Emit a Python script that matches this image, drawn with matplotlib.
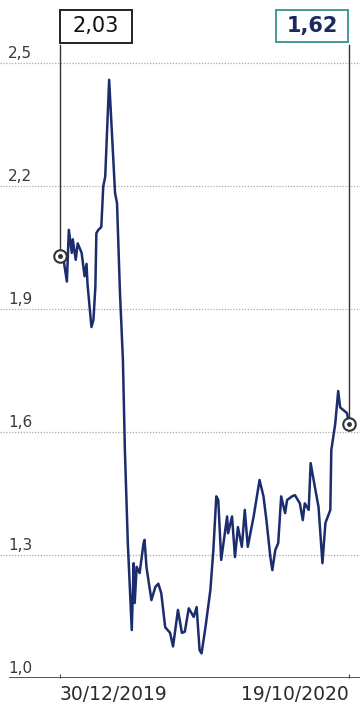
import numpy as np
import matplotlib.pyplot as plt
from matplotlib.patches import Rectangle

# days since 30/12/2019 and price
days = [0, 3, 7, 9, 12, 13, 16, 18, 22, 25, 27, 28, 32, 34, 36, 37, 39, 42, 44, 46,
        50, 56, 58, 61, 64, 66, 69, 73, 75, 76, 78, 81, 85, 86, 88, 93, 97, 100, 103,
        107, 112, 115, 120, 124, 127, 131, 136, 139, 142, 144, 148, 153, 156, 159,
        161, 164, 170, 171, 175, 178, 181, 185, 188, 191, 197, 203, 207, 210, 214,
        216, 219, 222, 225, 229, 231, 236, 239, 244, 247, 249, 253, 255, 258, 263,
        267, 270, 275, 276, 280, 283, 285, 288, 292, 294]
prices = [2.03, 2.03, 1.967, 2.093, 2.037, 2.07, 2.02, 2.06, 2.037, 1.98, 2.01, 1.96,
          1.856, 1.873, 1.955, 2.085, 2.093, 2.10, 2.199, 2.223,
          2.459, 2.183, 2.158, 1.94, 1.776, 1.556, 1.329, 1.117, 1.28, 1.183, 1.271,
          1.256, 1.329, 1.337, 1.27, 1.19, 1.222, 1.23, 1.207,
          1.124, 1.11, 1.077, 1.166, 1.11, 1.113, 1.17, 1.149, 1.173, 1.068, 1.06,
          1.124, 1.215, 1.312, 1.443,
          1.434, 1.288, 1.394, 1.353, 1.394, 1.295, 1.368, 1.32, 1.41, 1.32, 1.394,
          1.483, 1.443, 1.385, 1.295,
          1.263, 1.312, 1.329, 1.443, 1.402, 1.434, 1.443, 1.446, 1.426, 1.385, 1.426,
          1.41, 1.524, 1.483, 1.417,
          1.28, 1.378, 1.41, 1.556, 1.62, 1.70, 1.66, 1.654, 1.646, 1.62]
yticks = [1.0, 1.3, 1.6, 1.9, 2.2, 2.5]
ytick_labels = ['1,0', '1,3', '1,6', '1,9', '2,2', '2,5']
xtick_labels = ['30/12/2019', '19/10/2020']
first_label = '2,03'
last_label = '1,62'

W, H = 360, 708
fig = plt.figure(figsize=(W / 100, H / 100), dpi=100)
ax = fig.add_axes([0, 1 - 678 / H, 1, 638 / H])

k = 294 / 289  # days per pixel
ax.set_xlim(-60 * k, 294 + 11 * k)
ax.set_ylim(1.0, 1.0 + 638 / 410)

for s in ax.spines.values():
    s.set_visible(False)
ax.axhline(1.0, xmin=10 / W, color='#444444', lw=1.3, zorder=3)
for v in yticks[1:]:
    ax.axhline(v, color='#aaaaaa', lw=0.9, ls=(0, (1, 1.3)), zorder=1)

for v, lab in zip(yticks, ytick_labels):
    ax.text(8 / W, v + 0.006, lab, transform=ax.get_yaxis_transform(),
            ha='left', va='bottom', fontsize=11, color='#3a3a3a')
ax.set_yticks([])

ax.set_xticks([days[0], days[-1]])
ax.set_xticklabels(xtick_labels, fontsize=13.5, color='#2a2a2a')
ax.tick_params(axis='x', direction='in', length=3, color='#444444', pad=5)
lbls = ax.get_xticklabels()
lbls[0].set_ha('left')
lbls[1].set_ha('right')

# leader lines up to the value boxes
top = 1.0 + 633 / 410
ax.plot([days[0], days[0]], [prices[0], top], color='#333333', lw=1.0, zorder=2)
ax.plot([days[-1], days[-1]], [prices[-1], top], color='#333333', lw=1.0, zorder=2)

ax.plot(days, prices, color='#1c2d6e', lw=1.8, zorder=4, solid_joinstyle='round')

for i in (0, -1):
    ax.plot(days[i], prices[i], 'o', ms=9, mfc='white', mec='#333333', mew=1.5, zorder=5)
    ax.plot(days[i], prices[i], 'o', ms=2.5, color='#333333', zorder=6)


def box(x0, y0, w, h, txt, ec, tc, weight):
    fig.add_artist(Rectangle((x0 / W, 1 - (y0 + h) / H), w / W, h / H,
                             transform=fig.transFigure, fill=True, fc='white',
                             ec=ec, lw=1.4))
    fig.text((x0 + w / 2) / W, 1 - (y0 + h / 2) / H, txt, ha='center', va='center',
             fontsize=15, color=tc, fontweight=weight)


box(60, 10, 72, 33, first_label, '#222222', '#111111', 'normal')
box(276, 10, 72, 32, last_label, '#3f9a9a', '#1a2a5e', 'bold')

fig.savefig('out.png', dpi=100, facecolor='white')
